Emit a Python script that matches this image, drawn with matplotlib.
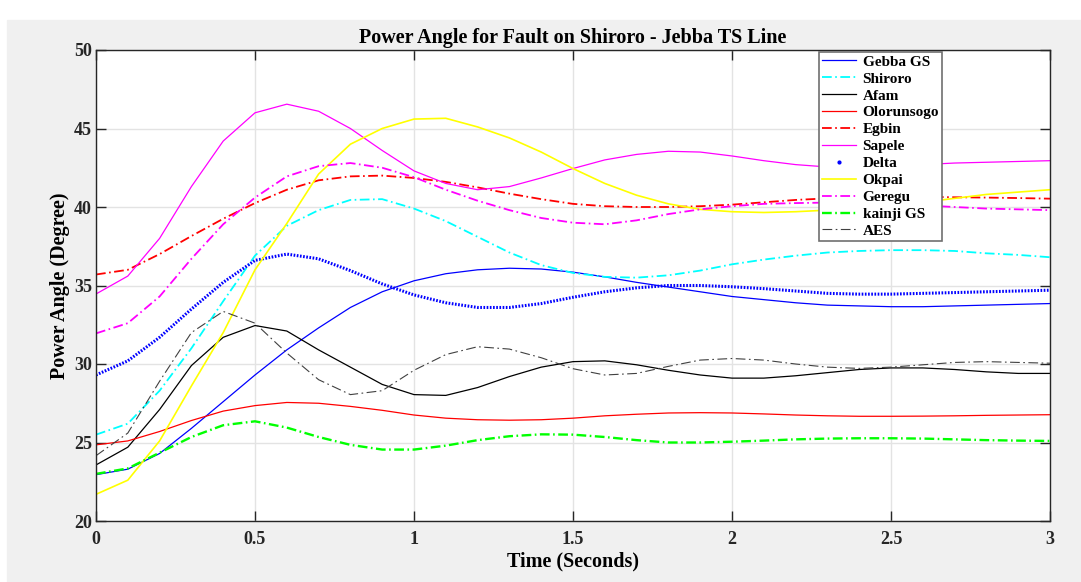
import numpy as np
import matplotlib.pyplot as plt
from matplotlib.lines import Line2D
from matplotlib.patches import Rectangle

# time axis (s) and power angles (deg)
t = np.round(np.arange(0, 3.01, 0.1), 2)

gebba = [22.95, 23.3, 24.3, 25.9, 27.6, 29.3, 30.9, 32.3, 33.6, 34.6, 35.3,
         35.75, 36.0, 36.1, 36.05, 35.85, 35.55, 35.2, 34.9, 34.6, 34.3,
         34.1, 33.9, 33.75, 33.7, 33.65, 33.65, 33.7, 33.75, 33.8, 33.85]
shiroro = [25.5, 26.2, 28.3, 31.0, 34.0, 36.9, 38.8, 39.8, 40.45, 40.5, 39.9,
           39.1, 38.1, 37.1, 36.3, 35.8, 35.55, 35.5, 35.65, 35.95, 36.35,
           36.65, 36.9, 37.1, 37.2, 37.25, 37.25, 37.2, 37.05, 36.95, 36.8]
afam = [23.57, 24.7, 27.1, 29.9, 31.7, 32.45, 32.1, 30.9, 29.8, 28.7, 28.05,
        28.0, 28.5, 29.2, 29.8, 30.15, 30.2, 29.95, 29.6, 29.3, 29.1,
        29.1, 29.25, 29.45, 29.65, 29.75, 29.75, 29.65, 29.5, 29.4, 29.4]
olorunsogo = [24.85, 25.1, 25.7, 26.4, 27.0, 27.35, 27.55, 27.5, 27.3, 27.05,
              26.75, 26.55, 26.45, 26.42, 26.45, 26.55, 26.7, 26.8, 26.88,
              26.9, 26.88, 26.82, 26.75, 26.7, 26.67, 26.67, 26.68, 26.7,
              26.73, 26.75, 26.77]
egbin = [35.7, 36.0, 37.0, 38.15, 39.25, 40.25, 41.1, 41.7, 41.95, 42.0, 41.85,
         41.6, 41.25, 40.85, 40.5, 40.2, 40.05, 40.0, 40.0, 40.05, 40.15,
         40.3, 40.45, 40.55, 40.62, 40.65, 40.65, 40.62, 40.6, 40.57, 40.53]
sapele = [34.46, 35.6, 38.0, 41.3, 44.2, 46.0, 46.55, 46.1, 45.0, 43.6, 42.3,
          41.5, 41.1, 41.3, 41.85, 42.45, 43.0, 43.35, 43.55, 43.5, 43.25,
          42.95, 42.7, 42.55, 42.55, 42.6, 42.7, 42.8, 42.85, 42.9, 42.95]
delta = [29.3, 30.2, 31.7, 33.5, 35.2, 36.6, 37.0, 36.7, 35.95, 35.1, 34.4,
         33.9, 33.6, 33.6, 33.85, 34.25, 34.6, 34.85, 35.0, 35.0, 34.92,
         34.8, 34.65, 34.5, 34.45, 34.45, 34.5, 34.55, 34.6, 34.65, 34.7]
okpai = [21.7, 22.6, 25.1, 28.6, 32.0, 36.0, 38.95, 42.1, 44.0, 45.0, 45.6,
         45.65, 45.1, 44.4, 43.5, 42.45, 41.5, 40.75, 40.2, 39.85, 39.7,
         39.65, 39.7, 39.8, 39.95, 40.1, 40.3, 40.55, 40.8, 40.95, 41.1]
geregu = [31.95, 32.6, 34.3, 36.7, 38.9, 40.6, 41.95, 42.6, 42.8, 42.5, 41.9,
          41.1, 40.4, 39.8, 39.3, 39.0, 38.9, 39.15, 39.55, 39.85, 40.05,
          40.2, 40.25, 40.28, 40.25, 40.2, 40.1, 40.0, 39.9, 39.85, 39.8]
kainji = [23.0, 23.35, 24.35, 25.35, 26.1, 26.35, 25.95, 25.35, 24.85, 24.55,
          24.55, 24.8, 25.15, 25.4, 25.52, 25.5, 25.35, 25.15, 25.0, 25.0,
          25.05, 25.12, 25.2, 25.25, 25.27, 25.27, 25.25, 25.2, 25.15, 25.12,
          25.1]
aes = [24.16, 25.6, 28.9, 32.0, 33.35, 32.6, 30.7, 29.0, 28.05, 28.3, 29.6,
       30.6, 31.1, 30.95, 30.4, 29.7, 29.3, 29.4, 29.85, 30.25, 30.35,
       30.25, 30.0, 29.8, 29.72, 29.8, 29.95, 30.1, 30.15, 30.1, 30.05]

xticks = [0, 0.5, 1, 1.5, 2, 2.5, 3]
xticklabels = ['0', '0.5', '1', '1.5', '2', '2.5', '3']
yticks = [20, 25, 30, 35, 40, 45, 50]

plt.rcParams['font.family'] = ['Liberation Serif', 'DejaVu Serif']
plt.rcParams['font.weight'] = 'bold'
plt.rcParams['lines.scale_dashes'] = False

W, H = 1081, 582
fig = plt.figure(figsize=(W / 100, H / 100), dpi=100, facecolor='white')
fig.patches.append(Rectangle((7 / W, 0), 1 - 7 / W, (H - 20) / H,
                             transform=fig.transFigure, color='#f0f0f0',
                             zorder=-10))
ax = fig.add_axes([96 / W, 61 / H, 954 / W, 471 / H])

# MATLAB-style colours
blue, cyan, mag = '#0000ff', '#00ffff', '#ff00ff'
dd = (0, (7, 2.5, 1.2, 2.5))
ax.plot(t, gebba, color=blue, lw=0.9, label='Gebba GS')
ax.plot(t, shiroro, color=cyan, lw=1.3, ls=dd, label='Shiroro')
ax.plot(t, afam, color='k', lw=0.9, label='Afam')
ax.plot(t, olorunsogo, color='#ff0000', lw=0.9, label='Olorunsogo')
ax.plot(t, egbin, color='#ff0000', lw=1.3, ls=dd, label='Egbin')
ax.plot(t, sapele, color=mag, lw=0.9, label='Sapele')
ax.plot(t, delta, color=blue, lw=2.2, ls=(0, (1.2, 1.1)), label='Delta')
ax.plot(t, okpai, color='#ffff00', lw=1.2, label='Okpai')
ax.plot(t, geregu, color=mag, lw=1.3, ls=dd, label='Geregu')
ax.plot(t, kainji, color='#00ff00', lw=1.7, ls=dd, label='kainji GS')
ax.plot(t, aes, color='#404040', lw=0.8, ls=dd, label='AES')

ax.set_xlim(0, 3)
ax.set_ylim(20, 50)
ax.set_xticks(xticks)
ax.set_xticklabels(xticklabels)
ax.set_yticks(yticks)
ax.grid(True, color='#e3e3e3', lw=1)
ax.set_axisbelow(True)
ax.tick_params(direction='in', length=7, width=1, top=True, right=True,
               labelsize=13, colors='#262626')
ax.tick_params(axis='x', pad=7)
ax.tick_params(axis='y', pad=3)
for s in ax.spines.values():
    s.set_color('#262626')
    s.set_linewidth(1)

ax.set_title('Power Angle for Fault on Shiroro - Jebba TS Line',
             fontsize=14.5, fontweight='bold', pad=5)
ax.set_xlabel('Time (Seconds)', fontsize=14.5, fontweight='bold')
ax.set_ylabel('Power Angle (Degree)', fontsize=14.5, fontweight='bold')
ax.xaxis.set_label_coords(0.5, -0.064)
ax.yaxis.set_label_coords(-0.027, 0.5)

handles, labels = ax.get_legend_handles_labels()
handles[6] = Line2D([], [], color=blue, marker='.', ls='none', markersize=4)
leg = ax.legend(handles, labels, loc='upper left',
                bbox_to_anchor=(723 / 954, 469 / 471), borderaxespad=0,
                fontsize=11, labelspacing=0.21, handlelength=2.2,
                handletextpad=0.45, borderpad=0.2, fancybox=False,
                framealpha=1, edgecolor='#707070')
leg.get_frame().set_linewidth(1.2)
for txt in leg.get_texts():
    txt.set_fontweight('bold')

fig.savefig('out.png', dpi=100, facecolor=fig.get_facecolor())
